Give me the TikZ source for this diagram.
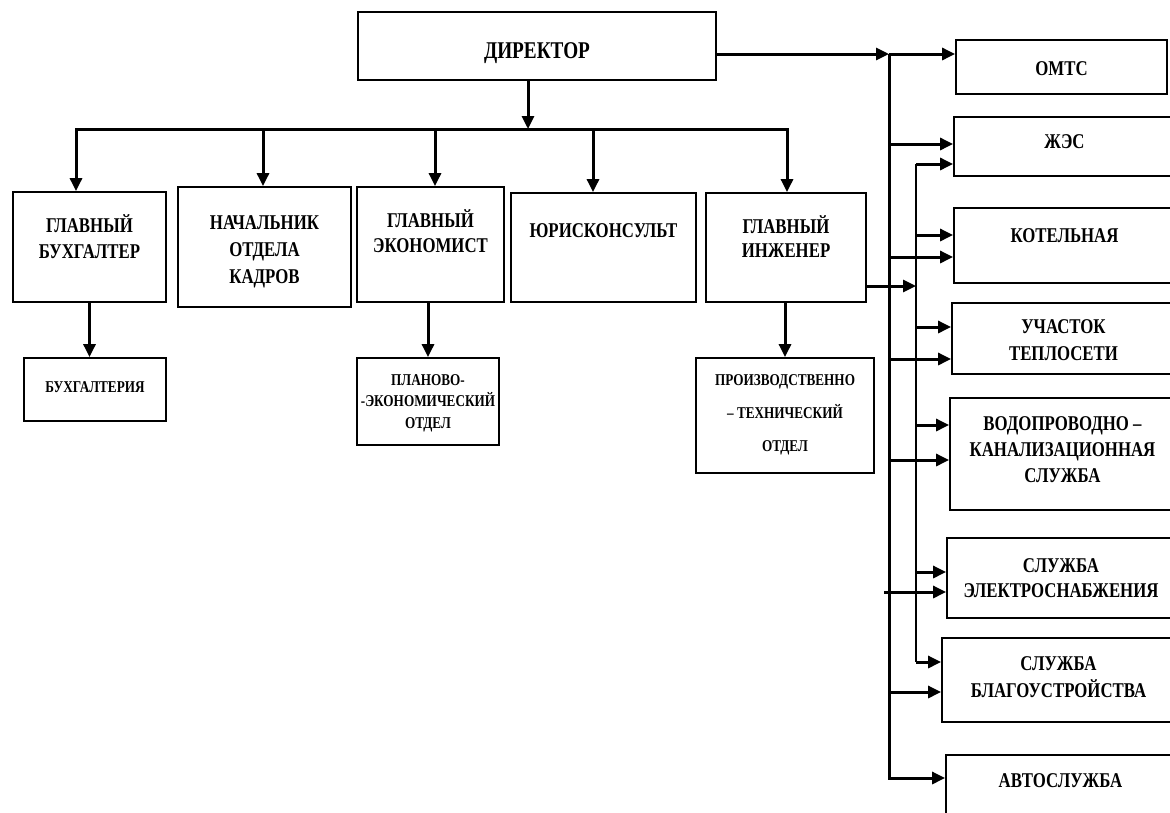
\documentclass[tikz,border=0pt]{standalone}
\usepackage{fontspec}
\setmainfont{Liberation Serif}[FakeStretch=0.8]
\usetikzlibrary{arrows.meta}

\newcommand{\cell}[4]{\parbox[c][#2pt][t]{#1pt}{\centering\vspace*{\dimexpr#3pt-20pt\relax}\rule{0pt}{20pt}#4\par}}

\begin{document}
\begin{tikzpicture}[x=1pt, y=-1pt,
  box/.style={draw, line width=1.8pt, inner sep=0pt, big},
  big/.style={font=\bfseries\fontsize{21}{#1}\selectfont}, big/.default=26,
  small/.style={font=\bfseries\fontsize{16.5}{#1}\selectfont}, small/.default=22,
  arr/.style={line width=3pt, -{Triangle[length=13pt,width=12pt]}},
  arrs/.style={line width=3pt, {Triangle[length=13pt,width=12pt]}-{Triangle[length=13pt,width=12pt]}},
  tline/.style={line width=2pt}]
  \useasboundingbox (0,0) rectangle (1170,812);
  \fill[white] (0,0) rectangle (1170,812);

  \node[box, font=\bfseries\fontsize{24}{28}\selectfont] (dir) at (537,46) {\cell{358}{68}{46}{ДИРЕКТОР}};

  \node[box] (glbuh) at (89.5,247) {\cell{153}{110}{40}{ГЛАВНЫЙ\\БУХГАЛТЕР}};
  \node[box, big=27] (nach) at (264.5,247) {\cell{173}{120}{42}{НАЧАЛЬНИК\\ОТДЕЛА\\КАДРОВ}};
  \node[box, big=25] (glek) at (430.5,244.5) {\cell{147}{115}{40}{ГЛАВНЫЙ\\ЭКОНОМИСТ}};
  \node[box] (jur) at (603.5,247.5) {\cell{185}{109}{44}{ЮРИСКОНСУЛЬТ}};
  \node[box, big=24] (glin) at (786,247.5) {\cell{160}{109}{40}{ГЛАВНЫЙ\\ИНЖЕНЕР}};

  \node[box, small] (bux) at (95,389.5) {\cell{142}{63}{34}{БУХГАЛТЕРИЯ}};
  \node[box, small=21.5] (plan) at (428,401.5) {\cell{142}{87}{27}{ПЛАНОВО-\\-ЭКОНОМИЧЕСКИЙ\\ОТДЕЛ}};
  \node[box, small=33] (proizv) at (785,415.5) {\cell{178}{115}{27}{ПРОИЗВОДСТВЕННО\\– ТЕХНИЧЕСКИЙ\\ОТДЕЛ}};

  \node[box] (omts) at (1061.5,67) {\cell{211}{54}{35}{ОМТС}};
  \node[box] (zhes) at (1064.5,146.5) {\cell{221}{59}{31}{ЖЭС}};
  \node[box] (kotel) at (1064.5,245.5) {\cell{221}{75}{34}{КОТЕЛЬНАЯ}};
  \node[box, big=27] (uch) at (1063.5,338.5) {\cell{223}{71}{30}{УЧАСТОК\\ТЕПЛОСЕТИ}};
  \node[box] (vodo) at (1062.5,454) {\cell{225}{112}{32}{ВОДОПРОВОДНО –\\КАНАЛИЗАЦИОННАЯ\\СЛУЖБА}};
  \node[box, big=25] (elek) at (1061,578) {\cell{228}{80}{34}{СЛУЖБА\\ЭЛЕКТРОСНАБЖЕНИЯ}};
  \node[box, big=27] (blag) at (1058.5,680) {\cell{233}{84}{32}{СЛУЖБА\\БЛАГОУСТРОЙСТВА}};
  \node[box] (avto) at (1060.5,792.5) {\cell{229}{75}{32}{АВТОСЛУЖБА}};

  \coordinate (hub) at (528,129);
  \coordinate (b1) at (76,129);
  \coordinate (b2) at (263,129);
  \coordinate (b3) at (435,129);
  \coordinate (b4) at (593,129);
  \coordinate (b5) at (787,129);
  \draw[arr] (dir.south -| hub) -- (hub);
  \draw[arrs] (b1 |- glbuh.north) -- (b1) -- (b5) -- (b5 |- glin.north);
  \foreach \b/\n in {b2/nach, b3/glek, b4/jur}
    \draw[arr] (\b) -- (\b |- \n.north);

  \draw[arr] (glbuh.south) -- (glbuh.south |- bux.north);
  \draw[arr] (plan.north |- glek.south) -- (plan.north);
  \draw[arr] (proizv.north |- glin.south) -- (proizv.north);

  \coordinate (vtop) at (889,54);
  \coordinate (vbot) at (889,778);
  \draw[arr] (dir.east |- vtop) -- (vtop);
  \draw[arr] (vtop) -- (vtop -| omts.west);
  \draw[arr] (vtop) -- (vbot) -- (vbot -| avto.west);
  \foreach \n/\y in {zhes/144, kotel/257, uch/359, vodo/460, blag/692}
    {\coordinate (v\n) at (889,\y);
     \draw[arr] (v\n) -- (v\n -| \n.west);}
  \coordinate (velek) at (884,592);
  \draw[arr] (velek) -- (velek -| elek.west);

  \coordinate (ttop) at (916,164);
  \coordinate (tbot) at (916,662);
  \coordinate (tin) at (916,286);
  \draw[tline] (ttop) -- (tbot);
  \draw[arr] (glin.east |- tin) -- (tin);
  \foreach \n/\y in {zhes/164, kotel/235, uch/327, vodo/425, elek/572, blag/662}
    {\coordinate (t\n) at (916,\y);
     \draw[arr] (t\n) -- (t\n -| \n.west);}
\end{tikzpicture}
\end{document}
